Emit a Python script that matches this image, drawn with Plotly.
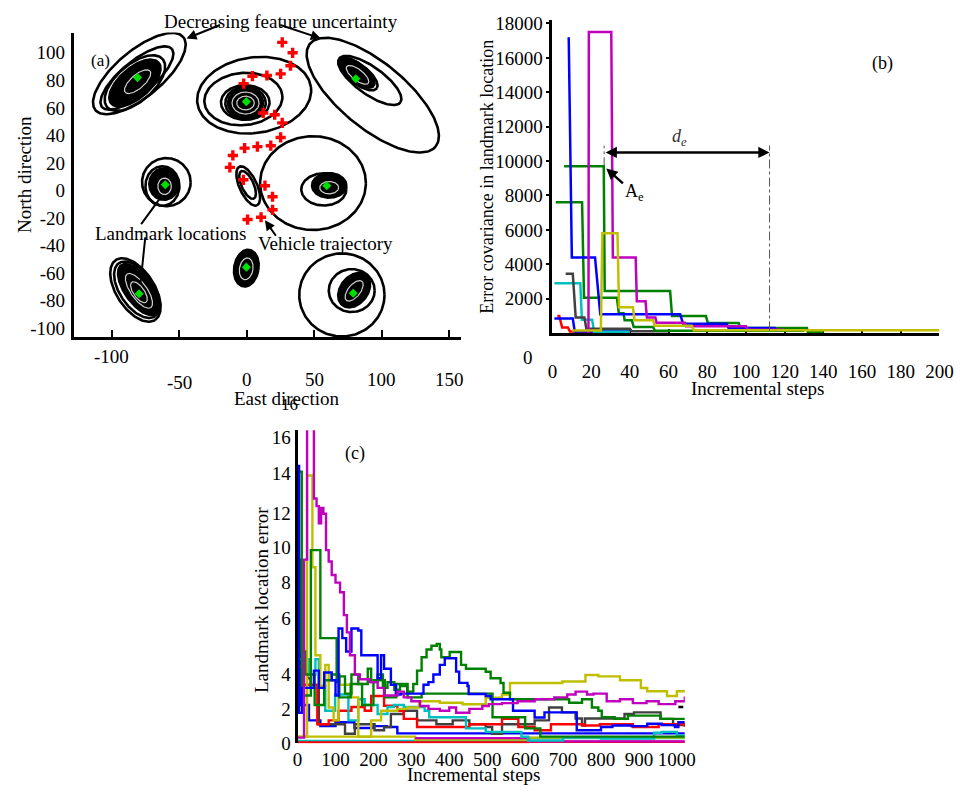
import numpy as np
import plotly.graph_objects as go

W, H = 974, 798
OFF = 8  # default page margin of the html body
FW, FH = W - OFF, H - OFF
SERIF = "Liberation Serif"
BLUE, GREEN, RED, CYAN, MAG, OLIVE, GRAY = "#0000FF", "#008000", "#FF0000", "#00BFBF", "#BF00BF", "#BFBF00", "#404040"

# ---------------- Panel (a): landmark map ----------------
landmark_x = [-81.1, -0.4, 80.7, -60.5, 59.2, -0.4, -79.9, 78.8]
landmark_y = [82.0, 64.5, 81.1, 4.1, 3.4, -55.8, -75.1, -74.7]

vehicle_x = [26.2, 33.9, 32.3, 25.0, 14.8, 4.1, -2.4, 12.1, 20.6, 26.2, 25.0, 17.7, 7.8, -1.7,
             -10.4, -12.6, -2.6, 13.4, 19.0, 19.0, 10.5, 0.5]
vehicle_y = [107.6, 100.0, 90.6, 84.7, 83.5, 83.0, 77.6, 56.3, 55.0, 49.1, 38.5, 32.5, 31.8, 30.7,
             25.4, 16.7, 7.7, 3.4, -4.6, -14.1, -19.5, -21.2]

# uncertainty ellipses (centre, semi-axes, orientation in degrees)
ring_cx = [-79.7, -81.5, -83.0, 5.4, -2.6, -1.2, -1.0, 93.3, 91.1, 82.4, -59.7, -62.6,
           49.0, 57.0, 1.0, 0.5, -82.6, -81.5, 70.4, 77.7]
ring_cy = [84.9, 81.7, 78.0, 69.2, 66.4, 63.9, 63.5, 69.2, 79.9, 84.5, 6.0, 3.2,
           5.3, 0.7, 3.2, 4.0, -72.4, -72.2, -76.0, -72.8]
ring_a = [42.0, 33.4, 27.0, 42.5, 29.0, 18.0, 15.0, 59.7, 27.7, 17.3, 18.0, 12.6,
          39.2, 16.7, 15.5, 11.0, 26.2, 23.5, 31.6, 17.0]
ring_b = [17.0, 12.0, 13.5, 27.5, 19.0, 12.6, 11.8, 24.0, 10.0, 7.0, 17.5, 14.4,
          34.1, 11.7, 6.5, 4.5, 14.0, 12.5, 30.2, 15.6]
ring_ang = [39, 39, 40, 8, 5, 0, 0, -38.6, -35, -37, 0, 0,
            0, 0, -65, -65, -56, -55, 0, 0]

core_cx = [-83.0, -1.0, 81.3, -61.5, 61.0, -0.4, -80.4, 79.5]
core_cy = [78.0, 63.5, 85.6, 4.6, 3.6, -56.5, -72.0, -72.5]
core_a = [23.0, 13.0, 15.9, 10.8, 12.7, 9.0, 21.7, 14.0]
core_b = [11.0, 10.4, 6.5, 11.4, 8.9, 13.5, 10.0, 10.0]
core_ang = [40, 0, -37, 0, 0, -10, -54, 50]

inner_cx = [-81.0, -1.0, -1.0, 82.0, -61.0, 61.0, -0.5, -80.0, -80.0, 79.5]
inner_cy = [79.0, 63.5, 63.5, 84.0, 3.0, 2.0, -57.0, -73.0, -74.0, -73.0]
inner_a = [12.0, 10.0, 6.5, 10.0, 5.0, 7.0, 5.0, 15.0, 9.0, 9.0]
inner_b = [5.0, 8.0, 5.0, 4.0, 6.0, 4.5, 8.0, 6.0, 4.0, 4.5]
inner_ang = [40, 0, 0, -37, 0, 0, -10, -54, -54, 50]

a_xtick_vals = [-100, -50, 0, 50, 100, 150]
a_ytick_vals = [-100, -80, -60, -40, -20, 0, 20, 40, 60, 80, 100]

# ---------------- Panel (b): error covariance ----------------
b_red_x = [2.5, 3.5, 5.0, 8.0, 9.0, 40]
b_red_y = [1000, 1000, 330, 330, 90, 90]
b_blue2_x = [1.0, 10.5, 11.5, 40]
b_blue2_y = [850, 850, 90, 90]
b_cyan_x = [1.0, 14.4, 15.2, 20.5, 21.5, 40]
b_cyan_y = [2900, 2900, 770, 770, 80, 80]
b_gray_x = [6.8, 10.5, 12.0, 16.5, 17.5, 40, 41, 60]
b_gray_y = [3450, 3450, 900, 900, 250, 250, 100, 100]
b_green2_x = [1.7, 15.3, 16.3, 33.3, 34.3, 36.7, 37.3, 41, 42, 52, 53, 130]
b_green2_y = [7600, 7600, 2050, 2050, 1150, 1150, 750, 750, 350, 350, 130, 130]
b_green1_x = [6.0, 26.5, 27.0, 60.8, 61.8, 79.3, 80.3, 96.2, 97.2, 131.5, 132, 140]
b_green1_y = [9700, 9700, 2450, 2450, 1000, 1000, 580, 580, 300, 300, 60, 60]
b_blue_x = [8.4, 10.0, 22.0, 24.7, 66.0, 67.5, 90, 91, 115, 116]
b_blue_y = [17200, 4400, 4400, 1100, 1100, 550, 550, 300, 300, 100]
b_mag_x = [18.6, 18.8, 30.4, 31.2, 43, 43.6, 48.1, 48.8, 53.2, 53.8, 68.4, 69, 100, 101, 120]
b_mag_y = [0, 17500, 17500, 4400, 4400, 1850, 1850, 900, 900, 600, 600, 400, 400, 200, 200]
b_olive_x = [10, 25, 25.8, 33.6, 34.4, 41.6, 42.4, 52, 52.8, 72, 73, 200]
b_olive_y = [150, 150, 5800, 5800, 1500, 1500, 750, 750, 420, 420, 160, 160]
b_ytick_vals = [2000, 4000, 6000, 8000, 10000, 12000, 14000, 16000, 18000]
b_xtick_vals = list(range(0, 201, 20))
de_start, de_end, de_level = 26.7, 112.2, 10500

# ---------------- Panel (c): landmark location error ----------------
c_cyan2_x = [0, 608, 1021]
c_cyan2_y = [0.12, 0.28, 0.28]
c_red2_x = [0, 608, 1021]
c_red2_y = [0.05, 0.08, 0.08]
c_olive2_x = [0, 310, 608, 1021]
c_olive2_y = [0.35, 0.2, 0.3, 0.3]
c_mag2_x = [310, 608, 1021]
c_mag2_y = [0.27, 0.1, 0.1]
c_blue2_x = [0, 6, 30, 60, 100, 150, 200, 235, 263, 1021]
c_blue2_y = [4.8, 2.0, 1.2, 0.9, 1.1, 0.8, 0.9, 0.85, 0.52, 0.52]
c_gray_x = [0, 9, 26, 34, 56, 99, 125, 151, 177, 203, 228, 246, 280, 315, 366, 409, 453, 496, 513,
            539, 582, 625, 663, 697, 733, 750, 758, 800, 862, 887, 957, 990, 1021]
c_gray_y = [4.1, 4.08, 3.4, 2.9, 1.0, 1.0, 0.5, 1.0, 1.0, 0.68, 0.85, 1.53, 1.7, 1.2, 1.0, 1.2, 1.0,
            0.85, 0.5, 1.0, 1.0, 1.2, 1.87, 1.62, 1.3, 0.93, 1.3, 1.3, 1.53, 1.62, 1.28, 0.95, 1.05]
c_red_x = [0, 13, 52, 82, 108, 142, 177, 194, 228, 263, 280, 315, 366, 453, 496, 539, 582, 625, 668,
           754, 797, 884, 952, 1021]
c_red_y = [4.0, 3.06, 1.0, 1.2, 1.7, 1.9, 1.7, 2.47, 1.96, 1.7, 1.28, 0.85, 0.85, 1.0, 1.0, 1.28,
           0.85, 0.68, 1.0, 0.93, 1.0, 0.85, 1.0, 0.85]
c_cyan_x = [0, 2, 30, 47, 56, 73, 99, 134, 160, 177, 211, 237, 254, 280, 335, 347, 444, 496, 590,
            608, 700, 800, 940, 960, 1000, 1021]
c_cyan_y = [10.7, 4.4, 3.6, 4.4, 3.0, 1.7, 2.55, 1.2, 2.3, 2.0, 1.53, 1.9, 2.0, 1.9, 1.7, 1.36,
            0.78, 0.6, 0.34, 0.15, 0.3, 0.25, 0.55, 0.6, 0.4, 0.4]
c_olive_x = [0, 25, 39, 47, 60, 73, 82, 95, 108, 134, 142, 160, 177, 194, 220, 263, 289, 320, 375,
             435, 496, 539, 560, 608, 663, 698, 759, 793, 850, 905, 922, 974, 1000, 1021]
c_olive_y = [0.35, 14.0, 9.2, 4.6, 3.0, 4.1, 1.87, 1.2, 3.06, 3.06, 2.4, 0.34, 0.34, 1.2, 1.7, 1.8,
             1.87, 2.2, 2.12, 2.04, 2.38, 2.55, 3.15, 3.15, 3.15, 3.23, 3.57, 3.5, 3.3, 2.89, 2.72,
             2.47, 2.72, 2.8]
c_greenB_x = [0, 8, 20, 45, 70, 90, 110, 140, 170, 200, 230, 260, 290, 327, 514, 600, 640, 1021]
c_greenB_y = [9.6, 4.8, 3.6, 2.0, 3.3, 3.6, 2.4, 3.1, 2.0, 3.3, 2.4, 3.1, 2.4, 2.6, 1.36, 0.78,
              0.35, 0.35]
c_greenA_x = [0, 11, 35, 60, 103, 110, 125, 142, 160, 185, 194, 211, 225, 237, 255, 270, 289, 305,
              315, 327, 340, 353, 367, 375, 379, 401, 431, 444, 496, 509, 535, 543, 560, 716, 750,
              776, 793, 802, 836, 871, 922, 957, 1021]
c_greenA_y = [14.2, 2.5, 10.1, 5.5, 3.2, 3.5, 2.6, 3.6, 3.1, 3.9, 3.2, 3.6, 2.9, 3.2, 2.8, 3.0, 2.7,
              3.1, 3.8, 4.5, 4.9, 5.1, 5.2, 4.9, 4.5, 4.77, 4.1, 3.9, 3.74, 3.4, 3.15, 2.64, 2.3,
              2.12, 2.3, 1.87, 1.7, 1.36, 1.28, 1.45, 1.45, 1.28, 1.28]
c_blue_x = [0, 4, 12, 43, 56, 70, 90, 100, 108, 118, 128, 142, 160, 168, 211, 220, 228, 246, 259,
            272, 323, 332, 345, 358, 375, 388, 418, 426, 448, 451, 496, 509, 568, 625, 651, 736,
            800, 830, 880, 922, 960, 995, 1004, 1021]
c_blue_y = [14.5, 1.6, 2.9, 3.8, 2.9, 3.7, 3.3, 2.5, 6.0, 5.5, 4.8, 6.0, 5.9, 4.6, 3.4, 4.6, 3.9,
            3.06, 2.55, 2.6, 2.6, 3.06, 3.2, 3.6, 4.1, 4.45, 3.75, 3.16, 3.0, 2.58, 2.47, 2.3, 1.7,
            1.35, 1.62, 0.68, 0.85, 0.93, 0.9, 1.02, 0.95, 0.85, 1.1, 1.1]
c_mag_x = [0, 17, 25, 43, 50, 56, 62, 68, 75, 82, 90, 100, 112, 122, 130, 138, 151, 164, 190, 211,
           228, 263, 280, 300, 323, 345, 375, 400, 418, 453, 487, 504, 539, 580, 625, 677, 711,
           733, 763, 780, 815, 850, 884, 920, 952, 996, 1021]
c_mag_y = [0.3, 9.6, 17.5, 12.8, 12.4, 11.5, 12.3, 12.0, 10.1, 9.5, 8.8, 8.4, 7.9, 6.7, 5.8, 4.6,
           3.6, 3.35, 3.2, 2.9, 2.5, 2.7, 2.4, 2.2, 1.95, 1.8, 1.7, 1.87, 1.6, 1.8, 1.95, 2.05, 2.1,
           2.2, 2.3, 2.4, 2.55, 2.7, 2.55, 2.6, 2.2, 2.3, 2.1, 2.2, 2.05, 2.2, 2.45]
c_xtick_vals = list(range(0, 1001, 100))
c_ytick_text = ["0", "2", "4", "6", "8", "10", "12", "14", "16"]
c_ytick_pos = [0.0, 1.79, 3.58, 6.55, 8.43, 10.25, 12.0, 14.13, 16.0]


def PX(p):
    return (p - OFF) / FW


def PY(p):
    return 1 - (p - OFF) / FH


def ellipse_xy(cx, cy, a, b, ang):
    t = np.linspace(0, 2 * np.pi, 181)
    th = np.deg2rad(ang)
    x = cx + a * np.cos(t) * np.cos(th) - b * np.sin(t) * np.sin(th)
    y = cy + a * np.cos(t) * np.sin(th) + b * np.sin(t) * np.cos(th)
    return x, y


fig = go.Figure()

# panel (a)
for cx, cy, a, b, ang in zip(ring_cx, ring_cy, ring_a, ring_b, ring_ang):
    x, y = ellipse_xy(cx, cy, a, b, ang)
    fig.add_trace(go.Scatter(x=x, y=y, mode="lines", line=dict(color="black", width=2.6),
                             xaxis="x", yaxis="y", hoverinfo="skip"))
for cx, cy, a, b, ang in zip(core_cx, core_cy, core_a, core_b, core_ang):
    x, y = ellipse_xy(cx, cy, a, b, ang)
    fig.add_trace(go.Scatter(x=x, y=y, mode="lines", fill="toself", fillcolor="black",
                             line=dict(color="black", width=2.6), xaxis="x", yaxis="y", hoverinfo="skip"))
for cx, cy, a, b, ang in zip(inner_cx, inner_cy, inner_a, inner_b, inner_ang):
    x, y = ellipse_xy(cx, cy, a, b, ang)
    fig.add_trace(go.Scatter(x=x, y=y, mode="lines", line=dict(color="#d0d0d0", width=1.2),
                             xaxis="x", yaxis="y", hoverinfo="skip"))
fig.add_trace(go.Scatter(x=vehicle_x, y=vehicle_y, mode="markers",
                         marker=dict(symbol="cross", size=8.5, color=RED, line=dict(width=0)),
                         xaxis="x", yaxis="y"))
fig.add_trace(go.Scatter(x=landmark_x, y=landmark_y, mode="markers",
                         marker=dict(symbol="diamond", size=7, color="#00E000", line=dict(width=0)),
                         xaxis="x", yaxis="y"))

# panel (b)
b_series = [(b_red_x, b_red_y, RED), (b_blue2_x, b_blue2_y, BLUE), (b_cyan_x, b_cyan_y, CYAN),
            (b_gray_x, b_gray_y, GRAY), (b_green2_x, b_green2_y, GREEN),
            (b_green1_x, b_green1_y, GREEN), (b_blue_x, b_blue_y, BLUE),
            (b_mag_x, b_mag_y, MAG), (b_olive_x, b_olive_y, OLIVE)]
for xs, ys, col in b_series:
    fig.add_trace(go.Scatter(x=xs, y=ys, mode="lines", line=dict(color=col, width=2.5),
                             xaxis="x2", yaxis="y2"))

# panel (c)
c_series = [(c_cyan2_x, c_cyan2_y, CYAN), (c_red2_x, c_red2_y, RED), (c_olive2_x, c_olive2_y, OLIVE),
            (c_mag2_x, c_mag2_y, MAG), (c_blue2_x, c_blue2_y, BLUE), (c_gray_x, c_gray_y, GRAY),
            (c_red_x, c_red_y, RED), (c_cyan_x, c_cyan_y, CYAN), (c_olive_x, c_olive_y, OLIVE),
            (c_greenB_x, c_greenB_y, GREEN), (c_greenA_x, c_greenA_y, GREEN),
            (c_blue_x, c_blue_y, BLUE), (c_mag_x, c_mag_y, MAG)]
for xs, ys, col in c_series:
    fig.add_trace(go.Scatter(x=xs, y=ys, mode="lines", line=dict(color=col, width=2.4, shape="hv"),
                             xaxis="x3", yaxis="y3"))

FS = 19
tf = dict(family=SERIF, size=FS, color="black")
common = dict(showgrid=False, zeroline=False, linecolor="black", tickfont=tf, tickcolor="black")

fig.update_layout(
    width=FW, height=FH, margin=dict(l=0, r=0, t=0, b=0),
    paper_bgcolor="white", plot_bgcolor="white", showlegend=False,
    xaxis=dict(domain=[PX(70), PX(465)], range=[-128.3, 158.7], anchor="y", showline=True,
               linewidth=3, ticks="inside", ticklen=7, tickwidth=2, tickvals=a_xtick_vals,
               showticklabels=False, **common),
    yaxis=dict(domain=[PY(338), PY(26)], range=[-106.9, 114.7], anchor="x", showline=True,
               linewidth=3, ticks="", tickvals=a_ytick_vals,
               ticktext=[str(v) for v in a_ytick_vals], ticklabelstandoff=2, **common),
    xaxis2=dict(domain=[PX(558.3), PX(953)], range=[0, 200], anchor="y2", showline=True,
                linewidth=3, ticks="inside", ticklen=4, tickwidth=2, tickvals=b_xtick_vals,
                ticklabelstandoff=19, layer="below traces", **common),
    yaxis2=dict(domain=[PY(333.5), PY(13)], range=[0, 18210], anchor="x2", showline=True,
                linewidth=3, ticks="outside", ticklen=3, tickwidth=2, tickvals=b_ytick_vals,
                ticktext=[str(v) for v in b_ytick_vals], **common),
    xaxis3=dict(domain=[PX(298.3), PX(693.3)], range=[0, 1021], anchor="y3", showline=False,
                ticks="", tickvals=c_xtick_vals, ticklabelstandoff=3, **common),
    yaxis3=dict(domain=[PY(753.3), PY(433)], range=[0, 16.36], anchor="x3", showline=True,
                linewidth=3, ticks="", tickvals=c_ytick_pos, ticktext=c_ytick_text, **common),
)

ann = []


def txt(x, y, s, size=FS, angle=0, color="black", xref="paper", yref="paper", **kw):
    ann.append(dict(x=x, y=y, xref=xref, yref=yref, text=s, showarrow=False, textangle=angle,
                    font=dict(family=SERIF, size=size, color=color), xanchor="center",
                    yanchor="middle", **kw))


def arrow(hx, hy, tx, ty, head=2, width=2):
    ann.append(dict(x=PX(hx), y=PY(hy), xref="paper", yref="paper", ax=tx - hx, ay=ty - hy,
                    text="", showarrow=True, arrowhead=head, arrowsize=1, arrowwidth=width,
                    arrowcolor="black"))


# panel (a) texts
txt(PX(281), PY(15), "Decreasing feature uncertainty")
arrow(185, 32, 220, 18)
arrow(322, 32, 280, 18)
txt(PX(169), PY(232), "Landmark locations")
arrow(157, 197, 138, 223, head=0)
arrow(138, 283, 143, 235, head=0)
txt(PX(327), PY(242), "Vehicle trajectory")
arrow(265, 218, 277, 235)
txt(PX(97), PY(55), "(a)", size=17)
for v, py in zip(a_xtick_vals, [357, 384, 381, 381, 381, 381]):
    txt(v, PY(py), str(v), xref="x")
txt(PX(287), PY(400), "East direction")
txt(PX(20), PY(171), "North direction", angle=-90)

# panel (b) texts
txt(PX(895), PY(58), "(b)", size=18)
txt(PX(533), PY(358), "0")
txt(PX(767), PY(390), "Incremental steps")
txt(PX(491.5), PY(173.5), "Error covariance in landmark location", size=18, angle=-90)
ann.append(dict(x=de_end, y=de_level, xref="x2", yref="y2", ax=de_start, ay=de_level,
                axref="x2", ayref="y2", text="", showarrow=True, arrowhead=2,
                arrowside="end+start", arrowsize=0.9, arrowwidth=2.5, arrowcolor="black"))
txt(65.8, 11350, "<i>d<sub>e</sub></i>", size=18, color="#333333", xref="x2", yref="y2")
ann.append(dict(x=27.8, y=9574, xref="x2", yref="y2", ax=37.2, ay=8625, axref="x2", ayref="y2",
                text="", showarrow=True, arrowhead=2, arrowsize=0.9, arrowwidth=2.5,
                arrowcolor="black"))
txt(42.5, 8150, "A<sub>e</sub>", size=18, xref="x2", yref="y2")

# panel (c) texts
txt(PX(357), PY(457), "(c)", size=18)
txt(PX(290), PY(407), "16", size=17)
txt(PX(478), PY(785), "Incremental steps")
txt(PX(261.7), PY(607), "Landmark location error", angle=-90)

fig.update_layout(annotations=ann)

fig.update_layout(shapes=[
    dict(type="line", xref="x2", yref="y2", x0=de_start, x1=de_start, y0=9700, y1=10900,
         line=dict(color="#555555", width=1, dash="dashdot")),
    dict(type="line", xref="x2", yref="y2", x0=de_end, x1=de_end, y0=150, y1=10900,
         line=dict(color="#555555", width=1, dash="dashdot")),
    dict(type="line", xref="x3", yref="y3", x0=1004, x1=1017, y0=1.9, y1=1.9,
         line=dict(color="black", width=2.5)),
])

fig.write_html("out.html")
